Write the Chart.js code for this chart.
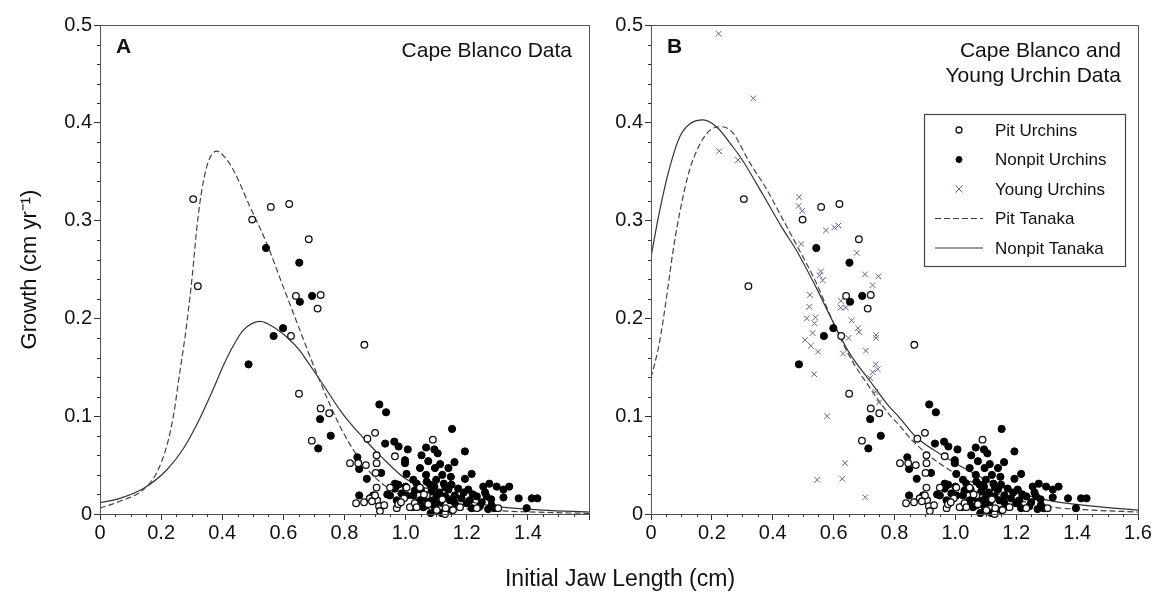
<!DOCTYPE html>
<html lang="en">
  <head>
    <meta charset="UTF-8" />
    <title>Urchin Growth</title>
    <script src="https://cdn.jsdelivr.net/npm/chart.js"></script>
    <style>
      body { margin: 0; background: #fff; }
      #wrap { position: relative; width: 1157px; height: 595px; }
      canvas { position: absolute; top: 0; }
      #xtitle {
        position: absolute; left: 0; width: 1240px; top: 565px;
        text-align: center; font: 23px "Liberation Sans", Arial, sans-serif; color: #111;
      }
    </style>
  </head>
  <body>
    <div id="wrap">
      <canvas id="chartA" width="600" height="595" style="left:0"></canvas>
      <canvas id="chartB" width="557" height="595" style="left:600px"></canvas>
      <div id="xtitle">Initial Jaw Length (cm)</div>
    </div>
    <script>
      // x ticks / y ticks
      const xTicks = [0, 0.2, 0.4, 0.6, 0.8, 1.0, 1.2, 1.4, 1.6];
      const yTicks = [0, 0.1, 0.2, 0.3, 0.4, 0.5];

      // Pit urchins (open circles), same in both panels
      const pitX = [0.305, 0.32, 0.498, 0.559, 0.619, 0.683, 0.641, 0.722, 0.712, 0.625, 0.865, 0.651, 0.722, 0.75, 0.693, 0.875, 0.9, 1.089, 0.905, 0.965, 0.818, 0.845, 0.87, 0.905, 0.902, 0.905, 0.949, 0.838, 0.864, 0.883, 0.907, 0.913, 0.93, 0.916, 0.971, 0.976, 0.995, 1.003, 1.014, 1.03, 1.047, 1.036, 1.069, 1.074, 1.102, 1.129, 1.131, 1.303, 1.233, 1.178, 0.9, 0.89, 1.06, 1.12, 1.155, 0.985];
      const pitY = [0.322, 0.233, 0.301, 0.314, 0.317, 0.281, 0.223, 0.224, 0.21, 0.182, 0.173, 0.123, 0.108, 0.103, 0.075, 0.077, 0.083, 0.076, 0.06, 0.059, 0.052, 0.052, 0.05, 0.052, 0.042, 0.027, 0.027, 0.011, 0.012, 0.016, 0.014, 0.008, 0.009, 0.003, 0.006, 0.01, 0.016, 0.027, 0.007, 0.011, 0.027, 0.007, 0.019, 0.01, 0.004, 0.0, 0.006, 0.006, 0.006, 0.007, 0.019, 0.013, 0.02, 0.015, 0.004, 0.012];

      // Nonpit urchins (filled circles)
      const nonpitX = [0.543, 0.652, 0.654, 0.694, 0.599, 0.568, 0.486, 0.72, 0.914, 0.936, 0.755, 0.714, 1.152, 0.933, 0.963, 0.977, 1.007, 1.067, 1.094, 1.105, 1.194, 1.052, 0.998, 0.998, 1.074, 1.113, 1.16, 0.842, 0.848, 0.92, 1.047, 1.096, 1.14, 0.873, 1.003, 1.067, 1.148, 1.194, 1.216, 0.848, 0.94, 0.976, 1.025, 1.036, 1.069, 1.094, 1.125, 1.14, 1.172, 1.205, 1.254, 1.274, 1.298, 1.32, 1.339, 1.37, 1.413, 1.431, 1.396, 1.32, 1.003, 1.025, 1.047, 1.069, 1.085, 1.102, 1.113, 1.129, 1.145, 1.161, 1.183, 1.21, 1.233, 1.249, 1.265, 1.281, 1.243, 1.216, 1.2, 1.167, 1.151, 1.118, 1.082, 1.096, 1.058, 1.036, 1.02, 0.971, 0.987, 0.965, 0.965, 0.949, 0.894, 0.883, 1.05, 1.08, 1.11, 1.13, 1.16, 1.19, 1.22, 1.26, 1.28, 1.1, 1.12, 1.0, 1.03, 1.07, 1.09, 1.27, 1.29, 1.15];
      const nonpitY = [0.272, 0.257, 0.217, 0.223, 0.19, 0.182, 0.153, 0.097, 0.112, 0.104, 0.08, 0.067, 0.087, 0.072, 0.074, 0.069, 0.066, 0.068, 0.066, 0.062, 0.064, 0.06, 0.055, 0.052, 0.054, 0.051, 0.053, 0.058, 0.046, 0.042, 0.047, 0.047, 0.047, 0.036, 0.041, 0.04, 0.038, 0.036, 0.041, 0.019, 0.02, 0.03, 0.035, 0.031, 0.033, 0.028, 0.031, 0.025, 0.026, 0.025, 0.028, 0.031, 0.028, 0.025, 0.028, 0.016, 0.016, 0.016, 0.006, 0.017, 0.019, 0.019, 0.014, 0.016, 0.023, 0.019, 0.012, 0.018, 0.014, 0.019, 0.016, 0.014, 0.018, 0.012, 0.018, 0.009, 0.008, 0.006, 0.011, 0.008, 0.004, 0.001, 0.001, 0.007, 0.007, 0.011, 0.007, 0.014, 0.021, 0.026, 0.031, 0.019, 0.019, 0.016, 0.025, 0.03, 0.022, 0.027, 0.012, 0.022, 0.02, 0.022, 0.015, 0.035, 0.04, 0.028, 0.024, 0.009, 0.014, 0.005, 0.006, 0.03];

      // Young urchins (crosses), panel B only
      const youngX = [0.222, 0.336, 0.224, 0.286, 0.487, 0.485, 0.497, 0.494, 0.575, 0.602, 0.616, 0.676, 0.703, 0.747, 0.728, 0.558, 0.554, 0.564, 0.522, 0.52, 0.512, 0.54, 0.537, 0.531, 0.506, 0.525, 0.549, 0.624, 0.623, 0.64, 0.659, 0.68, 0.684, 0.649, 0.739, 0.739, 0.631, 0.706, 0.738, 0.745, 0.728, 0.72, 0.737, 0.749, 0.536, 0.579, 0.638, 0.546, 0.628, 0.704];
      const youngY = [0.491, 0.425, 0.371, 0.362, 0.324, 0.315, 0.31, 0.276, 0.29, 0.293, 0.295, 0.267, 0.245, 0.243, 0.234, 0.248, 0.244, 0.239, 0.224, 0.212, 0.2, 0.201, 0.195, 0.185, 0.178, 0.172, 0.166, 0.218, 0.211, 0.211, 0.198, 0.19, 0.186, 0.18, 0.183, 0.18, 0.164, 0.167, 0.153, 0.148, 0.145, 0.139, 0.125, 0.114, 0.143, 0.1, 0.052, 0.035, 0.036, 0.017];

      // Tanaka curves
      const pitTanakaAX = [0, 0.065, 0.142, 0.185, 0.218, 0.24, 0.262, 0.28, 0.302, 0.316, 0.33, 0.351, 0.382, 0.405, 0.436, 0.491, 0.545, 0.6, 0.654, 0.714, 0.793, 0.869, 0.945, 1.054, 1.164, 1.327, 1.6];
      const pitTanakaAY = [0.006, 0.013, 0.025, 0.042, 0.069, 0.1, 0.147, 0.185, 0.244, 0.29, 0.325, 0.357, 0.371, 0.366, 0.352, 0.314, 0.277, 0.232, 0.188, 0.14, 0.085, 0.048, 0.026, 0.012, 0.006, 0.003, 0.0005];
      const nonpitTanakaAX = [0, 0.065, 0.142, 0.218, 0.273, 0.327, 0.371, 0.404, 0.436, 0.469, 0.524, 0.578, 0.611, 0.654, 0.676, 0.72, 0.793, 0.858, 0.916, 1.0, 1.109, 1.218, 1.3, 1.45, 1.6];
      const nonpitTanakaAY = [0.0116, 0.016, 0.026, 0.045, 0.067, 0.098, 0.128, 0.152, 0.172, 0.188, 0.197, 0.189, 0.181, 0.167, 0.157, 0.137, 0.103, 0.079, 0.06, 0.036, 0.022, 0.012, 0.0075, 0.004, 0.002];

      // Tanaka curves
      const pitTanakaBX = [0, 0.027, 0.049, 0.071, 0.093, 0.126, 0.159, 0.192, 0.23, 0.268, 0.323, 0.378, 0.432, 0.487, 0.542, 0.596, 0.651, 0.717, 0.782, 0.815, 0.859, 0.956, 1.087, 1.166, 1.306, 1.45, 1.6];
      const pitTanakaBY = [0.139, 0.174, 0.217, 0.266, 0.306, 0.351, 0.377, 0.392, 0.396, 0.39, 0.36, 0.333, 0.302, 0.27, 0.237, 0.198, 0.162, 0.13, 0.102, 0.091, 0.075, 0.05, 0.028, 0.018, 0.0075, 0.004, 0.002];
      const nonpitTanakaBX = [0, 0.029, 0.062, 0.095, 0.128, 0.171, 0.215, 0.27, 0.3, 0.367, 0.432, 0.477, 0.542, 0.597, 0.651, 0.717, 0.782, 0.815, 0.87, 0.957, 1.087, 1.166, 1.306, 1.45, 1.6];
      const nonpitTanakaBY = [0.263, 0.311, 0.355, 0.386, 0.399, 0.403, 0.396, 0.375, 0.362, 0.327, 0.292, 0.27, 0.232, 0.197, 0.165, 0.137, 0.11, 0.099, 0.079, 0.06, 0.037, 0.026, 0.014, 0.008, 0.004];

      const FONT = '"Liberation Sans", Arial, Helvetica, sans-serif';
      const pts = (xs, ys) => xs.map((x, i) => ({ x: x, y: ys[i] }));
      const fmt = v => (v === 0 ? '0' : v.toFixed(1));

      const pitSet = () => ({
        label: 'Pit Urchins', data: pts(pitX, pitY), pointStyle: 'circle', pointRadius: 3.3,
        borderColor: '#111', backgroundColor: '#fff', borderWidth: 1.3, clip: false
      });
      const nonpitSet = () => ({
        label: 'Nonpit Urchins', data: pts(nonpitX, nonpitY), pointStyle: 'circle', pointRadius: 3.6,
        borderColor: '#000', backgroundColor: '#000', borderWidth: 1, clip: false
      });
      const curve = (label, xs, ys, dashed) => ({
        label: label, data: pts(xs, ys), showLine: true, pointRadius: 0,
        borderColor: dashed ? '#444' : '#333', borderWidth: 1.2,
        borderDash: dashed ? [6, 3] : [], cubicInterpolationMode: 'monotone', fill: false
      });

      // frame, minor ticks, panel letter, caption and (for B) legend
      function decor(letter, caption, withLegend) {
        return {
          id: 'decor' + letter,
          afterDraw(chart) {
            const c = chart.ctx, a = chart.chartArea;
            const xs = chart.scales.x, ys = chart.scales.y;
            c.save();
            c.strokeStyle = '#555';
            c.lineWidth = 1;
            c.strokeRect(a.left + 0.5, a.top + 0.5, a.right - a.left, a.bottom - a.top);
            c.strokeStyle = '#333';
            c.beginPath();
            for (let i = 0; i <= 32; i++) {
              if (i % 4 === 0) continue;
              const px = Math.round(xs.getPixelForValue(i * 0.05)) + 0.5;
              c.moveTo(px, a.bottom); c.lineTo(px, a.bottom + 3);
            }
            for (let i = 0; i <= 25; i++) {
              if (i % 5 === 0) continue;
              const py = Math.round(ys.getPixelForValue(i * 0.02)) + 0.5;
              c.moveTo(a.left, py); c.lineTo(a.left - 3, py);
            }
            c.stroke();

            c.fillStyle = '#111';
            c.font = 'bold 21px ' + FONT;
            c.textAlign = 'left';
            c.textBaseline = 'alphabetic';
            c.fillText(letter, a.left + 16, a.top + 28);
            c.font = '21px ' + FONT;
            c.textAlign = 'right';
            caption.forEach((line, i) => c.fillText(line, a.right - 17, a.top + 32 + i * 25));

            if (withLegend) {
              const bx = a.right - 214, by = a.top + 89, bw = 201, bh = 152;
              c.strokeStyle = '#444';
              c.lineWidth = 1.2;
              c.strokeRect(bx + 0.5, by + 0.5, bw, bh);
              c.font = '17px ' + FONT;
              c.textAlign = 'left';
              c.textBaseline = 'middle';
              const sx = bx + 35;
              chart.data.datasets.forEach((ds, i) => {
                const ry = by + 16 + i * 29.5;
                c.save();
                if (ds.showLine) {
                  c.strokeStyle = ds.borderColor;
                  c.lineWidth = 1.2;
                  c.setLineDash(ds.borderDash);
                  c.beginPath(); c.moveTo(bx + 11, ry); c.lineTo(bx + 59, ry); c.stroke();
                } else {
                  c.fillStyle = ds.backgroundColor;
                  c.strokeStyle = ds.borderColor;
                  c.lineWidth = ds.borderWidth;
                  c.beginPath();
                  if (ds.pointStyle === 'crossRot') {
                    c.moveTo(sx - 3.5, ry - 3.5); c.lineTo(sx + 3.5, ry + 3.5);
                    c.moveTo(sx + 3.5, ry - 3.5); c.lineTo(sx - 3.5, ry + 3.5);
                    c.stroke();
                  } else {
                    c.arc(sx, ry, 3, 0, Math.PI * 2); c.fill(); c.stroke();
                  }
                }
                c.restore();
                c.fillStyle = '#111';
                c.fillText(ds.label, bx + 71, ry + 1);
              });
            }
            c.restore();
          }
        };
      }

      function makeScales(yWidth, showLast, yTitle) {
        return {
          x: {
            type: 'linear', min: 0, max: 1.6,
            afterBuildTicks: s => { s.ticks = xTicks.map(v => ({ value: v })); },
            afterFit: s => { s.height = 40; },
            ticks: {
              padding: 1, color: '#111', font: { family: FONT, size: 20 }, maxRotation: 0,
              callback: v => (!showLast && v > 1.5 ? '' : fmt(v))
            },
            grid: { drawOnChartArea: false, tickLength: 6, color: '#333' },
            border: { display: true, color: '#333' }
          },
          y: {
            type: 'linear', min: 0, max: 0.5,
            afterBuildTicks: s => { s.ticks = yTicks.map(v => ({ value: v })); },
            afterFit: s => { s.width = yWidth; },
            ticks: { padding: 2, color: '#111', font: { family: FONT, size: 20 }, callback: v => fmt(v) },
            grid: { drawOnChartArea: false, tickLength: 6, color: '#333' },
            border: { display: true, color: '#333' },
            title: yTitle
              ? { display: true, text: 'Growth (cm yr\u207B\u00B9)', color: '#111',
                  font: { family: FONT, size: 22 }, padding: { top: 17, bottom: 0 } }
              : { display: false }
          }
        };
      }

      const common = {
        responsive: false,
        animation: false,
        events: [],
        plugins: { legend: { display: false }, tooltip: { enabled: false } }
      };

      new Chart(document.getElementById('chartA'), {
        type: 'scatter',
        data: {
          datasets: [
            pitSet(),
            nonpitSet(),
            curve('Pit Tanaka', pitTanakaAX, pitTanakaAY, true),
            curve('Nonpit Tanaka', nonpitTanakaAX, nonpitTanakaAY, false)
          ]
        },
        options: Object.assign({}, common, {
          layout: { padding: { left: 0, right: 11, top: 25, bottom: 41 } },
          scales: makeScales(100, false, true)
        }),
        plugins: [decor('A', ['Cape Blanco Data'], false)]
      });

      new Chart(document.getElementById('chartB'), {
        type: 'scatter',
        data: {
          datasets: [
            pitSet(),
            nonpitSet(),
            {
              label: 'Young Urchins', data: pts(youngX, youngY), pointStyle: 'crossRot', pointRadius: 4,
              borderColor: '#5b6784', backgroundColor: '#5b6784', borderWidth: 1, clip: false
            },
            curve('Pit Tanaka', pitTanakaBX, pitTanakaBY, true),
            curve('Nonpit Tanaka', nonpitTanakaBX, nonpitTanakaBY, false)
          ]
        },
        options: Object.assign({}, common, {
          layout: { padding: { left: 0, right: 19, top: 25, bottom: 41 } },
          scales: makeScales(51, true, false)
        }),
        plugins: [decor('B', ['Cape Blanco and', 'Young Urchin Data'], true)]
      });
    </script>
  </body>
</html>
